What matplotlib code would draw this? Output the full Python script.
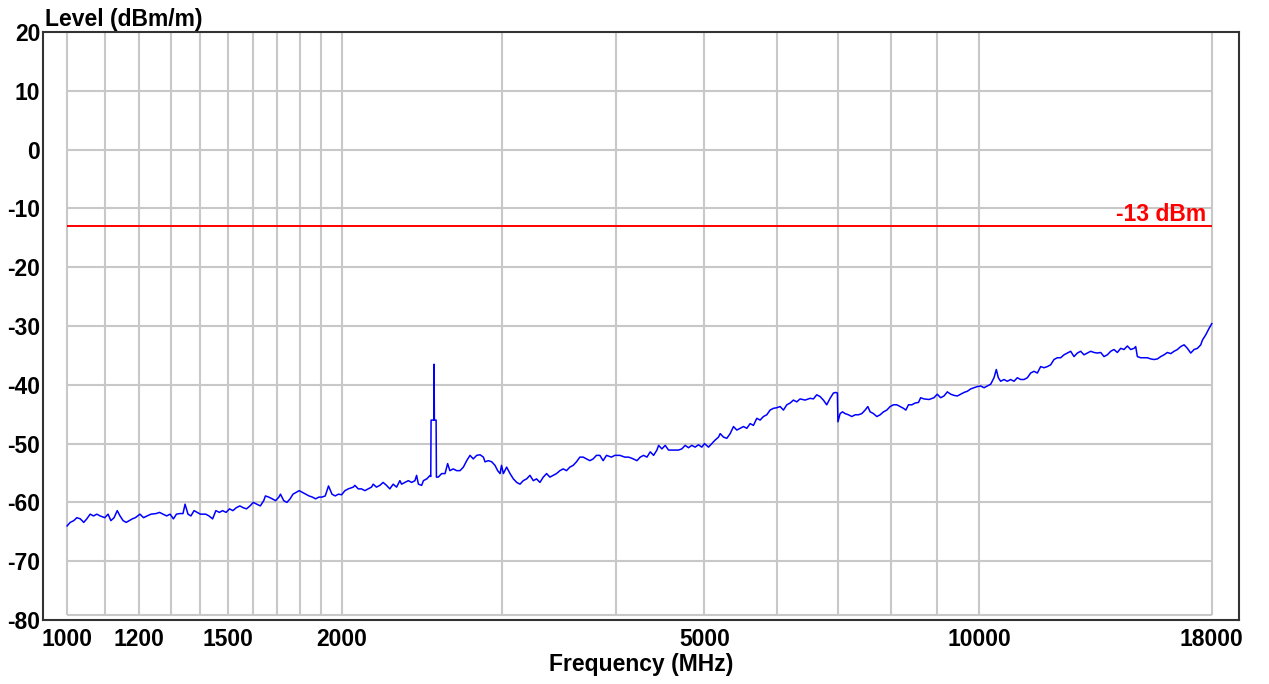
import matplotlib.pyplot as plt

# measured field strength trace, frequency in MHz and level in dBm/m
freq_mhz = [
    1000, 1008, 1017, 1025, 1034, 1043, 1051, 1060, 1069, 1078, 1087, 1100, 1109, 1117,
    1126, 1135, 1143, 1152, 1161, 1170, 1179, 1188, 1202, 1213, 1224, 1236, 1252, 1263,
    1274, 1286, 1297, 1308, 1318, 1329, 1340, 1347, 1357, 1367, 1378, 1389, 1400, 1419,
    1431, 1444, 1456, 1469, 1481, 1494, 1507, 1520, 1533, 1547, 1560, 1573, 1587, 1600,
    1614, 1629, 1643, 1650, 1664, 1679, 1693, 1707, 1714, 1728, 1742, 1756, 1769, 1783,
    1797, 1812, 1827, 1842, 1858, 1873, 1888, 1903, 1919, 1935, 1952, 1968, 1984, 2000,
    2017, 2034, 2060, 2068, 2086, 2103, 2121, 2139, 2157, 2166, 2184, 2203, 2221, 2240,
    2259, 2278, 2298, 2317, 2327, 2347, 2367, 2387, 2407, 2417, 2428, 2448, 2459, 2480,
    2501, 2505, 2507, 2524, 2526, 2528, 2539, 2541, 2553, 2575, 2597, 2614, 2629, 2651,
    2674, 2697, 2720, 2743, 2766, 2789, 2813, 2837, 2861, 2873, 2897, 2922, 2946, 2966,
    2984, 2995, 3009, 3034, 3060, 3086, 3112, 3138, 3164, 3191, 3218, 3245, 3272, 3300,
    3328, 3356, 3384, 3413, 3441, 3471, 3500, 3529, 3559, 3589, 3619, 3650, 3681, 3712,
    3743, 3775, 3806, 3839, 3871, 3904, 3953, 3987, 4038, 4089,
    4128, 4163, 4216, 4251, 4287, 4324, 4360, 4397, 4434, 4453, 4490, 4528, 4566, 4624,
    4682, 4722, 4762, 4802, 4842, 4883, 4925, 4966, 5000, 5051, 5093, 5136, 5180, 5202,
    5246, 5290, 5335, 5380, 5425, 5471, 5517, 5564, 5611, 5658, 5706, 5754, 5802, 5851,
    5901, 5951, 6001, 6052, 6103, 6155, 6207, 6259, 6312, 6365, 6446, 6528, 6583, 6638,
    6694, 6751, 6808, 6866, 6924, 6965, 6994, 7003, 7042, 7084, 7132, 7192, 7253, 7314,
    7376, 7438, 7501, 7552, 7597, 7661, 7726, 7791, 7857, 7923, 7990, 8058, 8126, 8195,
    8264, 8313, 8369, 8440, 8511, 8583,
    8630, 8703, 8814, 8925, 9000, 9077, 9154, 9232, 9310, 9389, 9468, 9548, 9628, 9710,
    9792, 9874, 9958, 10042, 10127, 10213, 10299, 10386, 10447, 10500, 10562, 10652, 10742,
    10832, 10924, 11016, 11109, 11203, 11298, 11393, 11490, 11587, 11685, 11784, 11883,
    11984, 12085, 12187, 12290, 12394, 12499, 12605, 12711, 12819, 12927, 13036, 13146,
    13258, 13370, 13483, 13597, 13712, 13828, 13944, 14062, 14181, 14301, 14422, 14544,
    14667, 14791, 14853, 14916, 15042, 15170, 15298, 15427, 15558, 15689, 15822, 15956,
    16091, 16227, 16364, 16502, 16642, 16783, 16925, 17068, 17213, 17358, 17505, 17579,
    17727, 17877, 18000,
]
level_dbm = [
    -64.0, -63.4, -63.1, -62.6, -62.8, -63.4, -62.8, -62.0, -62.3, -62.0, -62.3, -62.6, -62.0, -63.1,
    -62.6, -61.4, -62.3, -63.1, -63.4, -63.1, -62.8, -62.6, -62.0, -62.6, -62.3, -62.0, -61.9, -61.7,
    -62.0, -62.3, -62.0, -62.8, -62.0, -61.9, -61.9, -60.3, -62.0, -62.3, -61.4, -61.7, -62.0, -62.0,
    -62.3, -62.8, -61.4, -61.7, -61.4, -61.7, -61.1, -61.4, -60.9, -60.6, -60.9, -61.1, -60.6, -60.0,
    -60.3, -60.6, -59.7, -58.9, -59.1, -59.4, -59.7, -59.1, -58.6, -59.7, -60.0, -59.4, -58.6, -58.3,
    -58.0, -58.3, -58.6, -58.9, -59.1, -59.4, -59.1, -59.1, -58.9, -57.2, -58.6, -58.9, -58.6, -58.7,
    -58.0, -57.7, -57.4, -57.1, -57.7, -57.7, -58.0, -57.7, -57.4, -56.9, -57.4, -57.1, -56.6, -57.1,
    -57.7, -56.9, -57.4, -56.3, -56.9, -56.6, -56.3, -56.6, -56.3, -55.4, -56.9, -57.1, -56.3, -56.0,
    -55.4, -55.6, -46.0, -46.0, -36.5, -46.0, -46.0, -55.7, -55.7, -55.1, -55.1, -53.4, -54.6, -54.3,
    -54.6, -54.6, -54.0, -52.9, -52.0, -52.6, -52.0, -51.9, -52.3, -53.1, -52.9, -53.1, -53.7, -54.6,
    -55.1, -53.7, -55.1, -54.0, -55.1, -56.0, -56.6, -56.9, -56.3, -56.0, -55.4, -56.3, -56.0, -56.6,
    -55.7, -55.1, -55.7, -55.4, -55.1, -54.6, -54.3, -54.6, -54.0, -53.7, -53.1, -52.3, -52.3, -52.6,
    -52.9, -52.6, -52.0, -52.0, -52.9, -52.0, -52.3, -52.0, -52.0, -52.3,
    -52.3, -52.5, -52.9, -52.3, -52.0, -52.3, -51.4, -52.0, -51.1, -50.3, -50.9, -50.3, -51.1, -51.1,
    -51.1, -50.9, -50.3, -50.7, -50.3, -50.6, -50.2, -50.6, -50.0, -50.6, -50.0, -49.4, -48.9, -48.3,
    -48.9, -49.1, -48.3, -47.1, -47.7, -47.4, -47.1, -47.4, -46.6, -46.9, -45.7, -46.0, -45.4, -45.1,
    -44.3, -44.0, -43.9, -43.7, -44.3, -43.4, -43.1, -42.6, -42.9, -42.4, -42.6, -42.3, -42.4, -41.7,
    -42.0, -42.6, -43.4, -42.3, -41.4, -41.3, -41.4, -46.3, -44.9, -44.6, -44.9, -45.1, -45.4, -45.1,
    -45.1, -44.9, -44.3, -43.7, -44.6, -44.9, -45.4, -45.1, -44.6, -44.3, -43.7, -43.4, -43.4, -43.7,
    -44.0, -44.3, -43.4, -43.4, -43.1, -43.0,
    -42.2, -42.4, -42.5, -42.2, -41.6, -42.2, -41.9, -41.2, -41.6, -41.8, -41.9, -41.6, -41.3, -41.1,
    -40.7, -40.5, -40.3, -40.2, -40.5, -40.2, -39.9, -38.8, -37.4, -38.8, -39.4, -39.1, -39.4,
    -39.1, -39.4, -38.8, -39.1, -39.1, -38.8, -38.0, -37.7, -38.0, -36.9, -37.1, -36.9,
    -36.6, -35.7, -35.4, -35.4, -34.9, -34.6, -34.3, -35.2, -34.6, -34.3, -34.9, -34.6,
    -34.3, -34.5, -34.6, -34.5, -35.2, -34.9, -34.3, -34.0, -34.5, -33.8, -34.0, -33.4,
    -34.0, -33.8, -33.5, -35.2, -35.4, -35.4, -35.4, -35.6, -35.7, -35.6, -35.2, -34.9,
    -34.5, -34.7, -34.3, -34.0, -33.5, -33.2, -33.8, -34.6, -34.0, -33.8, -33.2, -32.4,
    -31.5, -30.4, -29.6,
]

limit_dbm = -13
limit_label = '-13 dBm'

x_ticks = [1000, 1200, 1500, 2000, 5000, 10000, 18000]
x_grid = [1000, 1100, 1200, 1300, 1400, 1500, 1600, 1700, 1800, 1900, 2000,
          3000, 4000, 5000, 6000, 7000, 8000, 9000, 10000, 18000]
y_ticks = [20, 10, 0, -10, -20, -30, -40, -50, -60, -70, -80]
y_grid = [10, 0, -10, -20, -30, -40, -50, -60, -70, -79.2]

plt.rcParams['font.family'] = ['Liberation Sans', 'DejaVu Sans']
plt.rcParams['font.weight'] = 'bold'
plt.rcParams['axes.unicode_minus'] = False

fig = plt.figure(figsize=(12.69, 6.84), dpi=100)
ax = fig.add_axes([43 / 1269, 1 - 620 / 684, 1196 / 1269, 588 / 684])

ax.set_xscale('log')
ax.set_xlim(941, 19280)
ax.set_ylim(-80, 20)

# grid only spans the measured band
ax.vlines(x_grid, -79.2, 20, color='#c8c8c8', lw=1.5, zorder=1)
ax.hlines(y_grid, 1000, 18000, color='#c8c8c8', lw=1.5, zorder=1)

ax.hlines(limit_dbm, 1000, 18000, color='#ff0000', lw=1.4, zorder=2)
ax.annotate(limit_label, xy=(18000, limit_dbm), xytext=(-6, 5), textcoords='offset pixels',
            ha='right', va='baseline', color='#ff0000', fontsize=16.5, fontweight='bold')

ax.plot(freq_mhz, level_dbm, color='#0000ff', lw=1.1, zorder=3)

ax.set_xticks(x_ticks)
ax.set_xticklabels([str(t) for t in x_ticks])
ax.set_xticks([], minor=True)
ax.set_yticks(y_ticks)
ax.set_yticklabels([str(t) for t in y_ticks])
ax.tick_params(which='both', length=0, labelsize=16.5)
ax.tick_params(axis='x', pad=6)
ax.tick_params(axis='y', pad=2)

for s in ax.spines.values():
    s.set_color('#333333')
    s.set_linewidth(1.5)

ax.set_xlabel('Frequency (MHz)', fontsize=16.5, fontweight='bold', labelpad=1)
ax.set_title('Level (dBm/m)', loc='left', fontsize=16.5, fontweight='bold', pad=4, x=0.002)

fig.savefig('out.png', dpi=100)
